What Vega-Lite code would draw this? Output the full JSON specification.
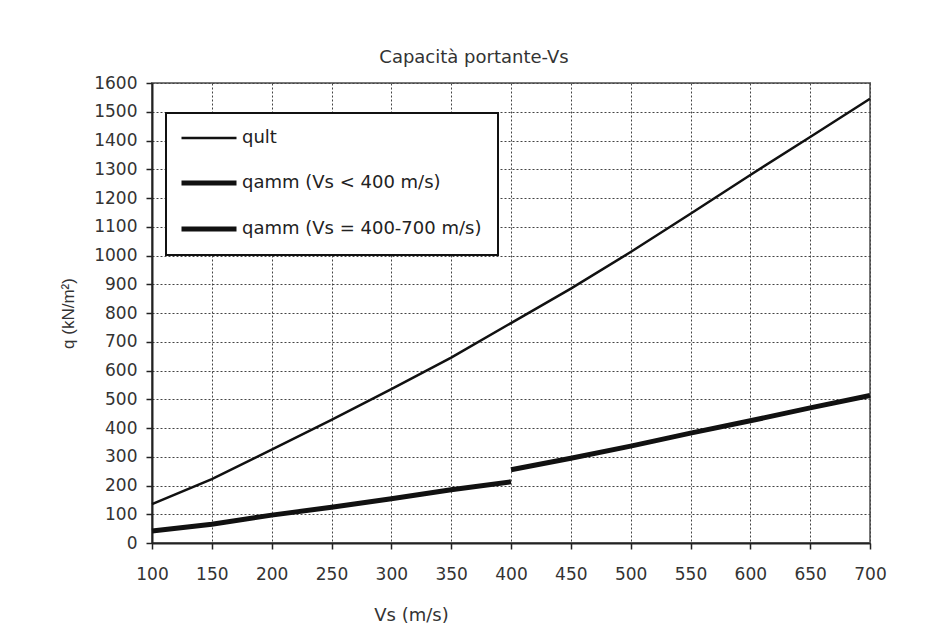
{
  "$schema": "https://vega.github.io/schema/vega-lite/v6.json",
  "width": 718,
  "height": 460,
  "autosize": {"type": "none"},
  "padding": {"left": 152, "top": 83, "right": 68, "bottom": 94},
  "background": "white",
  "title": {
    "text": "Capacità portante-Vs",
    "font": "DejaVu Sans",
    "fontSize": 18,
    "fontWeight": "normal",
    "color": "#333333",
    "anchor": "middle",
    "dx": -37,
    "offset": 7
  },
  "data": {
    "values": [
      {"series": "qult", "vs": 100, "q": 135},
      {"series": "qult", "vs": 150, "q": 222},
      {"series": "qult", "vs": 200, "q": 325},
      {"series": "qult", "vs": 250, "q": 428},
      {"series": "qult", "vs": 300, "q": 535},
      {"series": "qult", "vs": 350, "q": 645},
      {"series": "qult", "vs": 400, "q": 765},
      {"series": "qult", "vs": 450, "q": 885},
      {"series": "qult", "vs": 500, "q": 1012},
      {"series": "qult", "vs": 550, "q": 1145},
      {"series": "qult", "vs": 600, "q": 1280},
      {"series": "qult", "vs": 650, "q": 1412},
      {"series": "qult", "vs": 700, "q": 1545},
      {"series": "qamm (Vs < 400 m/s)", "vs": 100, "q": 42},
      {"series": "qamm (Vs < 400 m/s)", "vs": 150, "q": 65},
      {"series": "qamm (Vs < 400 m/s)", "vs": 200, "q": 97},
      {"series": "qamm (Vs < 400 m/s)", "vs": 250, "q": 124},
      {"series": "qamm (Vs < 400 m/s)", "vs": 300, "q": 154},
      {"series": "qamm (Vs < 400 m/s)", "vs": 350, "q": 185},
      {"series": "qamm (Vs < 400 m/s)", "vs": 400, "q": 213},
      {"series": "qamm (Vs = 400-700 m/s)", "vs": 400, "q": 255},
      {"series": "qamm (Vs = 400-700 m/s)", "vs": 450, "q": 295},
      {"series": "qamm (Vs = 400-700 m/s)", "vs": 500, "q": 337},
      {"series": "qamm (Vs = 400-700 m/s)", "vs": 550, "q": 382},
      {"series": "qamm (Vs = 400-700 m/s)", "vs": 600, "q": 425},
      {"series": "qamm (Vs = 400-700 m/s)", "vs": 650, "q": 470},
      {"series": "qamm (Vs = 400-700 m/s)", "vs": 700, "q": 513}
    ]
  },
  "mark": {"type": "line", "strokeCap": "butt"},
  "encoding": {
    "x": {
      "field": "vs",
      "type": "quantitative",
      "scale": {"domain": [100, 700], "nice": false, "zero": false},
      "axis": {
        "title": "Vs (m/s)",
        "values": [100, 150, 200, 250, 300, 350, 400, 450, 500, 550, 600, 650, 700],
        "format": "d",
        "labelFlush": false,
        "labelPadding": 17,
        "titlePadding": 24,
        "titleX": 259,
        "titleFont": "DejaVu Sans",
        "titleFontSize": 18
      }
    },
    "y": {
      "field": "q",
      "type": "quantitative",
      "scale": {"domain": [0, 1600], "nice": false},
      "axis": {
        "title": "q (kN/m²)",
        "values": [0, 100, 200, 300, 400, 500, 600, 700, 800, 900, 1000, 1100, 1200, 1300, 1400, 1500, 1600],
        "format": "d",
        "labelFlush": false,
        "labelPadding": 9,
        "titlePadding": 16,
        "titleFont": "Liberation Sans",
        "titleFontSize": 17
      }
    },
    "detail": {"field": "series"},
    "color": {
      "field": "series",
      "type": "nominal",
      "scale": {
        "domain": ["qult", "qamm (Vs < 400 m/s)", "qamm (Vs = 400-700 m/s)"],
        "range": ["#111111", "#111111", "#111111"]
      },
      "legend": {"title": null}
    },
    "strokeWidth": {
      "field": "series",
      "type": "nominal",
      "scale": {
        "type": "ordinal",
        "domain": ["qult", "qamm (Vs < 400 m/s)", "qamm (Vs = 400-700 m/s)"],
        "range": [2.5, 5, 5]
      },
      "legend": {"title": null}
    }
  },
  "config": {
    "view": {"stroke": "#777777", "strokeWidth": 2},
    "axis": {
      "domainColor": "#222222",
      "domainWidth": 2,
      "tickColor": "#222222",
      "tickWidth": 1.5,
      "tickSize": 6,
      "grid": true,
      "gridColor": "#444444",
      "gridDash": [2, 2],
      "gridWidth": 1,
      "labelFont": "DejaVu Sans",
      "labelFontSize": 17,
      "labelColor": "#333333",
      "titleColor": "#333333",
      "titleFontWeight": "normal"
    },
    "legend": {
      "orient": "none",
      "legendX": 14,
      "legendY": 30,
      "padding": 16,
      "fillColor": "white",
      "strokeColor": "#111111",
      "strokeWidth": 2,
      "symbolType": "M-5,0H5",
      "symbolSize": 121,
      "symbolOffset": 18,
      "labelFont": "DejaVu Sans",
      "labelFontSize": 18,
      "labelColor": "#222222",
      "labelOffset": 24,
      "rowPadding": 26,
      "labelLimit": 400
    }
  }
}
